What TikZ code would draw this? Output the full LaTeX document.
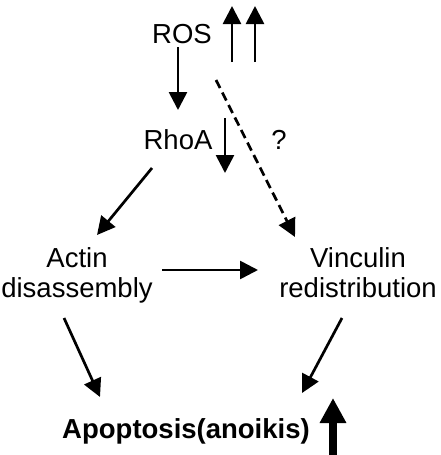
\documentclass[tikz,border=0pt]{standalone}
\usepackage{fontspec}
\setmainfont{Liberation Sans}
\usetikzlibrary{arrows.meta,calc}
\tikzset{
  lbl/.style={inner sep=0pt, font=\fontsize{27.5}{30}\selectfont},
  arr/.style={line width=2.7pt, -{Triangle[length=18pt,width=18pt]}},
  dasharr/.style={arr, dash pattern=on 9pt off 5pt},
  bigarr/.style={line width=8pt, -{Triangle[length=25pt,width=25pt]}}
}
\begin{document}
\begin{tikzpicture}[x=1pt,y=-1pt]
\useasboundingbox (0,0) rectangle (441,455);
% labels
\node[lbl, anchor=base] (ros) at (182,43) {ROS};
\node[lbl, anchor=base] (rhoa) at (178,149) {RhoA};
\node[lbl, anchor=base] (q) at (279,149) {?};
\node[lbl, anchor=north, align=center] (actin) at (77,247) {Actin\hspace{12pt}\\disassembly};
\node[lbl, anchor=north, align=center] (vinc) at (358,247) {Vinculin\\redistribution};
\node[lbl, anchor=base, font=\fontsize{27.5}{30}\selectfont\bfseries] (apop) at (186,438) {Apoptosis(anoikis)};
% free-standing indicator arrows
\coordinate (u1a) at (232,62); \coordinate (u1b) at (232,6);
\coordinate (u2a) at (255,62); \coordinate (u2b) at (255,6);
\coordinate (r1a) at (225,118); \coordinate (r1b) at (225,173);
\coordinate (bga) at (333,457); \coordinate (bgb) at (333,398);
\draw[arr] (u1a) -- (u1b);
\draw[arr] (u2a) -- (u2b);
\draw[arr] (r1a) -- (r1b);
\draw[bigarr] (bga) -- (bgb);
% connectors
\draw[arr] ($(ros.base)+(-4,4)$) -- ($(rhoa.base)+(0,-39)$);
\draw[dasharr] ($(ros.base)+(34,37)$) -- ($(vinc.north)+(-63,-10)$);
\draw[arr] ($(rhoa.base)+(-26,19)$) -- ($(actin.north)+(20,-12)$);
\draw[arr] ($(actin.north)+(85,23)$) -- ($(vinc.north)+(-100,23)$);
\draw[arr] ($(actin.north)+(-13,71)$) -- ($(apop.base)+(-86,-41)$);
\draw[arr] ($(vinc.north)+(-16,71)$) -- ($(apop.base)+(116,-45)$);
\end{tikzpicture}
\end{document}
